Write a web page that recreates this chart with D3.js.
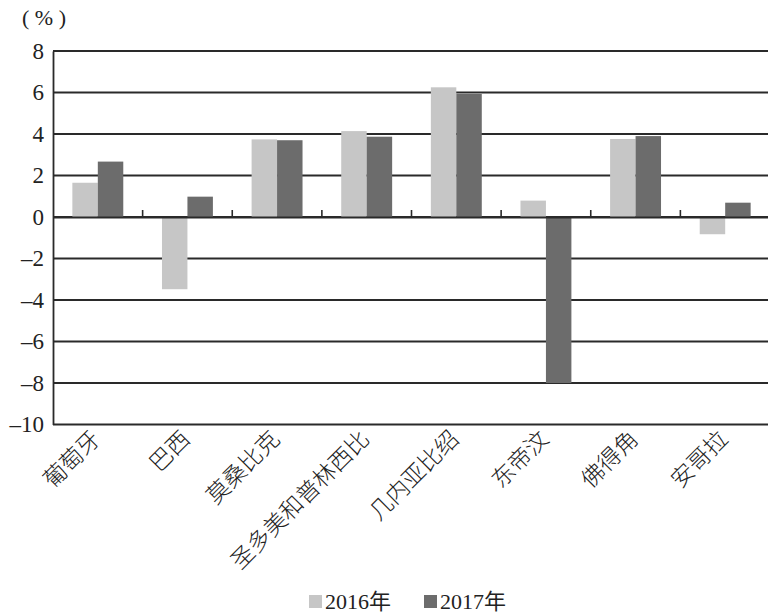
<!DOCTYPE html>
<html>
<head>
<meta charset="utf-8">
<script src="https://cdn.jsdelivr.net/npm/d3@7"></script>
<style>
  html, body { margin: 0; padding: 0; background: #fff; }
  text { font-family: "Liberation Serif", "Noto Sans CJK SC", serif; fill: #222; }
</style>
</head>
<body>
<script>
// GDP growth, Portuguese-speaking countries

const countries = ['葡萄牙', '巴西', '莫桑比克', '圣多美和普林西比', '几内亚比绍', '东帝汶', '佛得角', '安哥拉'];
const series = ['2016年', '2017年'];
const values2016 = [1.65, -3.48, 3.74, 4.14, 6.25, 0.79, 3.76, -0.83];
const values2017 = [2.67, 0.98, 3.70, 3.87, 5.93, -8.0, 3.90, 0.69];
const yTicks = [8, 6, 4, 2, 0, -2, -4, -6, -8, -10];

const colors = ['#c6c6c6', '#6c6c6c'];

const width = 768, height = 614;
const margin = { top: 51, right: -2, bottom: 190, left: 53 };

const data = countries.map((c, i) => ({ country: c, vals: [values2016[i], values2017[i]] }));

const x0 = d3.scaleBand().domain(countries).range([margin.left, width - margin.right]);
const x1 = d3.scaleBand().domain(series).range([0, x0.bandwidth()]).paddingInner(0).paddingOuter(0.76);
const y = d3.scaleLinear().domain([-10, 8]).range([height - margin.bottom + 0.5, margin.top]);

const svg = d3.select('body').append('svg')
    .attr('width', width)
    .attr('height', height);

// grid lines
svg.append('g')
    .selectAll('line')
    .data(yTicks)
    .join('line')
    .attr('x1', margin.left)
    .attr('x2', width)
    .attr('y1', d => y(d))
    .attr('y2', d => y(d))
    .attr('stroke', '#2a2a2a')
    .attr('stroke-width', 1.8);

// left axis
const yAxis = d3.axisLeft(y).tickValues(yTicks).tickSize(0).tickPadding(9)
    .tickFormat(d => d < 0 ? '\u2013' + Math.abs(d) : d);
svg.append('g')
    .attr('transform', `translate(${margin.left},0)`)
    .call(yAxis)
    .call(g => g.select('.domain').attr('stroke', '#2a2a2a').attr('stroke-width', 1.8))
    .call(g => g.selectAll('text').attr('font-size', 23).style('font-family', '"Liberation Serif", serif'));

// bars
const groups = svg.append('g')
    .selectAll('g')
    .data(data)
    .join('g')
    .attr('transform', d => `translate(${x0(d.country)},0)`);

groups.selectAll('rect')
    .data(d => d.vals.map((v, i) => ({ key: series[i], v: v, i: i })))
    .join('rect')
    .attr('x', d => x1(d.key))
    .attr('width', x1.bandwidth())
    .attr('y', d => y(Math.max(0, d.v)))
    .attr('height', d => Math.abs(y(d.v) - y(0)))
    .attr('fill', d => colors[d.i]);

// zero line with category ticks
const xAxis = d3.axisTop(x0).tickSize(0).tickFormat('');
svg.append('g')
    .attr('transform', `translate(0,${y(0)})`)
    .call(xAxis)
    .call(g => g.select('.domain').attr('stroke', '#2a2a2a').attr('stroke-width', 1.8));

svg.append('g')
    .selectAll('line')
    .data(countries.slice(1))
    .join('line')
    .attr('x1', d => x0(d))
    .attr('x2', d => x0(d))
    .attr('y1', y(0))
    .attr('y2', y(0) - 7)
    .attr('stroke', '#2a2a2a')
    .attr('stroke-width', 1.6);

// category labels
svg.append('g')
    .selectAll('text')
    .data(countries)
    .join('text')
    .attr('transform', d => `translate(${x0(d) + x0.bandwidth() / 2 + 4},${y(-10) + 16}) rotate(-45)`)
    .attr('text-anchor', 'end')
    .attr('font-size', 23)
    .style('font-family', '"Noto Sans CJK SC", sans-serif')
    .attr('font-weight', 300)
    .text(d => d);

// unit
svg.append('text')
    .attr('x', 22)
    .attr('y', 25)
    .attr('font-size', 22)
    .text('( % )');

// legend
const legend = svg.append('g')
    .selectAll('g')
    .data(series)
    .join('g')
    .attr('transform', (d, i) => `translate(${309 + i * 115},595)`);

legend.append('rect')
    .attr('width', 13)
    .attr('height', 13)
    .attr('fill', (d, i) => colors[i]);

legend.append('text')
    .attr('x', 16)
    .attr('y', 14)
    .attr('font-size', 22)
    .text(d => d);
</script>
</body>
</html>
